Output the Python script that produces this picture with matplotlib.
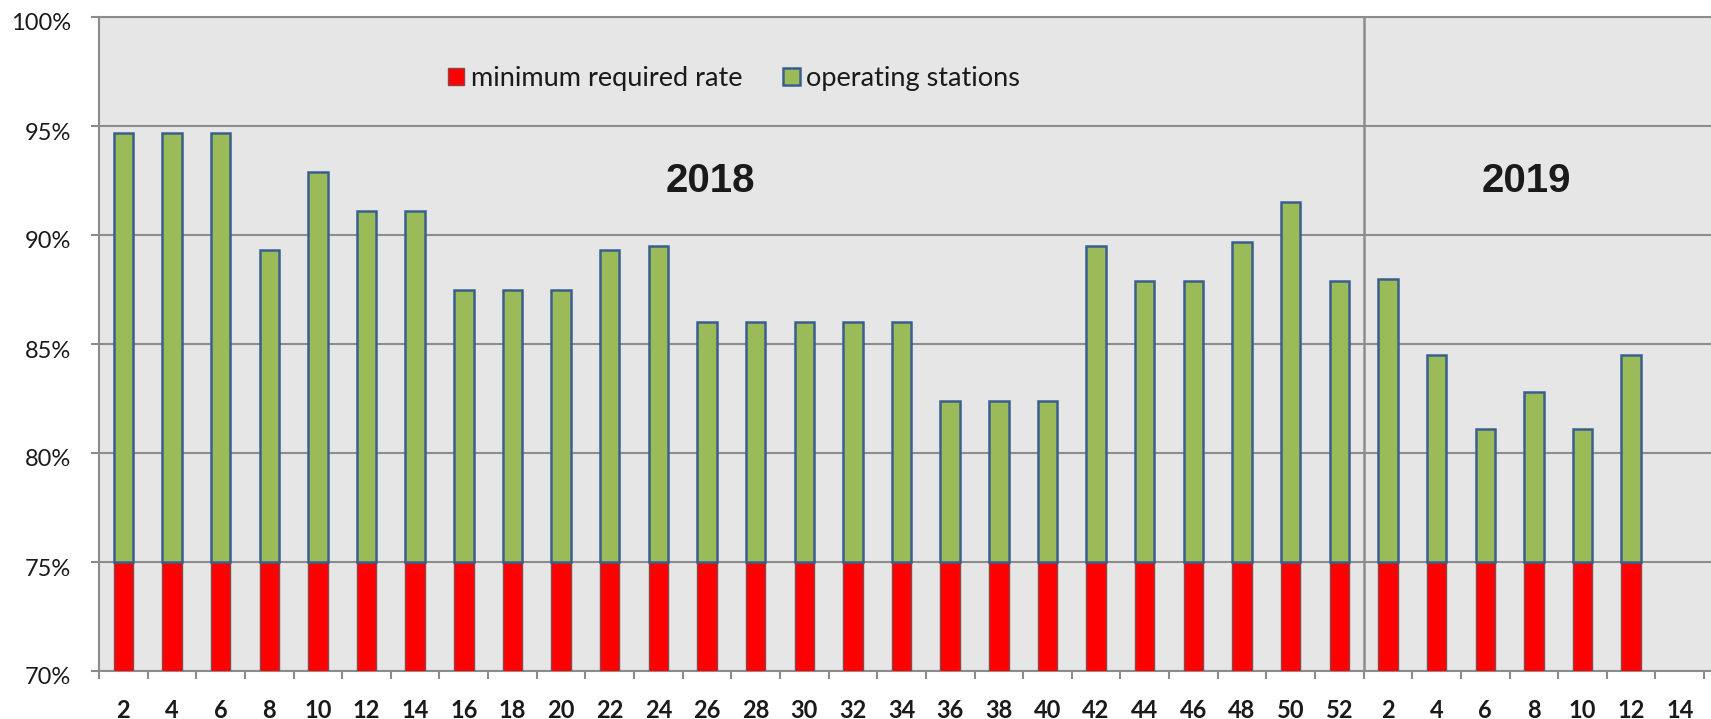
import numpy as np
import matplotlib
matplotlib.use("Agg")
import matplotlib.pyplot as plt
import matplotlib.transforms as mtransforms

# ---- data ----
weeks_2018 = list(range(2, 53, 2))
weeks_2019 = list(range(2, 15, 2))
ops_2018 = [94.7, 94.7, 94.7, 89.3, 92.9, 91.1, 91.1, 87.5, 87.5, 87.5,
            89.3, 89.5, 86.0, 86.0, 86.0, 86.0, 86.0, 82.4, 82.4, 82.4,
            89.5, 87.9, 87.9, 89.7, 91.5, 87.9]
ops_2019 = [88.0, 84.5, 81.1, 82.8, 81.1, 84.5, np.nan]
min_2018 = [75.0] * len(weeks_2018)
min_2019 = [75.0, 75.0, 75.0, 75.0, 75.0, 75.0, np.nan]
year_labels = ["2018", "2019"]
series_names = ["minimum required rate", "operating stations"]
y_ticks = [70, 75, 80, 85, 90, 95, 100]

labels = [str(w) for w in weeks_2018 + weeks_2019]
ops = np.array(ops_2018 + ops_2019, dtype=float)
mins = np.array(min_2018 + min_2019, dtype=float)
x = np.arange(len(labels))

GRID = "#8c8c8c"
BG = "#e6e6e6"
GREEN = "#9bbb59"
GREEN_EDGE = "#3a5f8f"
RED = "#ff0000"
RED_EDGE = "#8e4545"
TXT = "#1a1a1a"

W, H = 1711, 719
fig = plt.figure(figsize=(W / 100, H / 100), dpi=100)
ax = fig.add_axes([99 / W, 48 / H, (W - 99) / W, 654 / H])
ax.set_facecolor(BG)
ax.set_axisbelow(True)

bw = 0.4
ax.bar(x, mins, width=bw, color=RED, edgecolor=RED_EDGE, linewidth=1.0,
       label=series_names[0], zorder=3)
ax.bar(x, ops - mins, bottom=mins, width=bw, color=GREEN,
       edgecolor=GREEN_EDGE, linewidth=1.8, label=series_names[1], zorder=3)

ax.set_ylim(70, 100)
ax.set_xlim(-0.5, -0.5 + (W - 99) / 48.64)

# y axis
ax.set_yticks(y_ticks)
ax.set_yticklabels([f"{v}%" for v in y_ticks])
ax.yaxis.grid(True, color=GRID, linewidth=1.5)
ax.tick_params(axis="y", length=6, width=1.5, color=GRID, pad=14,
               labelsize=17, labelcolor=TXT)
for lab in ax.get_yticklabels():
    lab.set_fontfamily("Lato")
    lab.set_transform(lab.get_transform() +
                      mtransforms.ScaledTranslation(0, -5 / 100, fig.dpi_scale_trans))

# x axis: ticks at category boundaries, labels at centers
ax.set_xticks(np.arange(len(labels) + 1) - 0.5)
ax.set_xticklabels([])
ax.set_xticks(x, minor=True)
ax.set_xticklabels(labels, minor=True, fontfamily="Lato", fontweight="bold",
                   fontsize=17, color=TXT)
ax.tick_params(axis="x", which="major", length=6, width=1.5, color=GRID)
ax.tick_params(axis="x", which="minor", length=0, pad=20)

for side in ["left", "bottom", "top"]:
    ax.spines[side].set_color(GRID)
    ax.spines[side].set_linewidth(1.5)
ax.spines["right"].set_visible(False)

# year separator
sep = len(weeks_2018) - 0.5
ax.axvline(sep, color=GRID, linewidth=1.8, zorder=2)

# year labels
ax.text(12.07, 92.5, year_labels[0], ha="center", va="center", fontsize=29,
        fontweight="bold", family="Liberation Sans", color=TXT)
ax.text(28.84, 92.5, year_labels[1], ha="center", va="center", fontsize=29,
        fontweight="bold", family="Liberation Sans", color=TXT)

leg = ax.legend(loc="center", bbox_to_anchor=(0.394, 0.906), ncol=2,
                frameon=False, prop={"family": "Lato", "size": 19.5},
                handlelength=0.6, handleheight=0.6, handletextpad=0.25,
                columnspacing=1.5)
for t in leg.get_texts():
    t.set_color(TXT)

fig.savefig("out.png", dpi=100)
